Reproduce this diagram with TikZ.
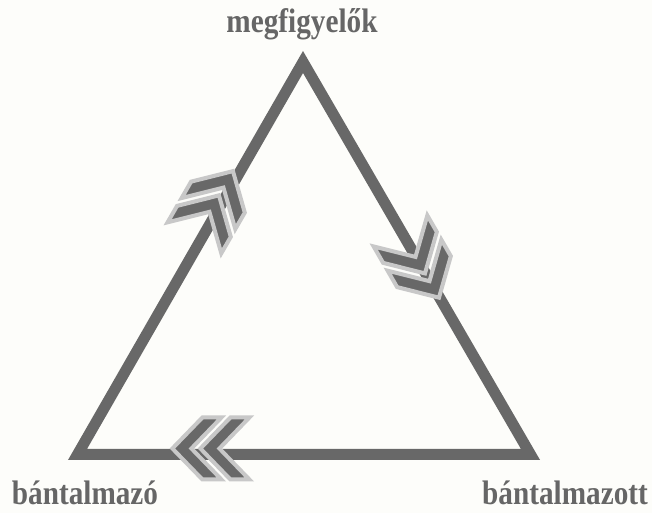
\documentclass[tikz,border=0pt]{standalone}
\usepackage{fontspec}
\setmainfont{Liberation Serif}
\usepackage{xcolor}
\usepackage{graphicx}
\usetikzlibrary{calc}
\definecolor{bgpaper}{RGB}{253,253,250}
\definecolor{edgegray}{RGB}{104,104,104}
\definecolor{rimgray}{RGB}{200,200,200}
\definecolor{textgray}{RGB}{102,102,102}
\newcommand{\rolename}[1]{\scalebox{0.86}[1]{#1}}
\tikzset{
  side/.style={draw=edgegray, line width=11pt, line join=miter},
  role/.style={font=\fontsize{34}{40}\selectfont\bfseries, text=textgray, anchor=base, inner sep=0pt},
  chev/.style={fill=edgegray, draw=rimgray, line width=4pt, line join=miter},
  dblchev/.pic={
    \foreach \dx in {9,37}
      \filldraw[chev] (\dx,0) -- ++(-30,31) -- ++(-19,0) -- ++(30,-31) -- ++(-30,-31) -- ++(19,0) -- cycle;
  },
}

\begin{document}
\begin{tikzpicture}[x=1pt,y=1pt]
\fill[bgpaper] (0,0) rectangle (652,513);
\useasboundingbox (0,0) rectangle (652,513);
% corners of the triangle
\coordinate (top) at (303,451);
\coordinate (left) at (77.5,58.5);
\coordinate (right) at (530.5,58.5);
\draw[side] (top) -- (right) -- (left) -- cycle;
% arrow positions along the sides
\path (left) -- (top) coordinate[pos=0.625] (up);
\path (top) -- (right) coordinate[pos=0.534] (down);
\path (right) -- (left) coordinate[pos=0.70] (back);
\pic[rotate=60] at ($(up)+(-4,6)$) {dblchev};
\pic[rotate=-60] at ($(down)+(-4,6)$) {dblchev};
\pic[rotate=180] at ($(back)+(-4,6)$) {dblchev};
% the three roles
\node[role] (obs) at (302,480) {\rolename{megfigyelők}};
\node[role] (abuser) at (85,8) {\rolename{bántalmazó}};
\node[role] (victim) at (565,8) {\rolename{bántalmazott}};
\end{tikzpicture}
\end{document}
